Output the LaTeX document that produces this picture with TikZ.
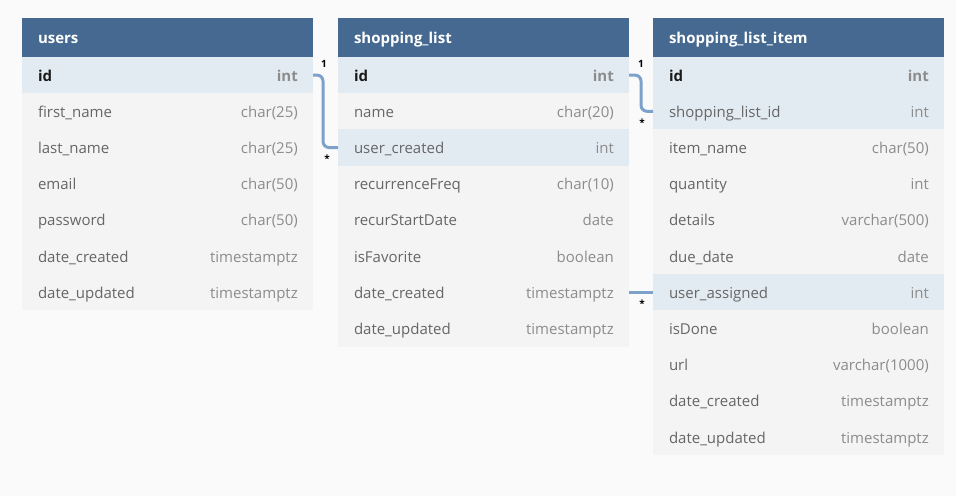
\documentclass[tikz,border=0pt]{standalone}
\usepackage{fontspec}
\setmainfont{Open Sans}
\usepackage{tikz}
\usetikzlibrary{positioning}
\definecolor{headblue}{HTML}{456990}
\definecolor{keyrow}{HTML}{E3EBF2}
\definecolor{plainrow}{HTML}{F4F4F4}
\definecolor{pagebg}{HTML}{FAFAFA}
\definecolor{linkblue}{HTML}{7CA1CA}
\definecolor{nametext}{HTML}{666666}
\definecolor{typetext}{HTML}{8C8C8C}
\newcommand{\rowfont}{\fontsize{15}{18}\selectfont}
% one table: #1 name prefix, #2 left x, #3 title, #4 rows
\newcommand{\erdtable}[4]{%
  \node[Header] (#1-0) at (#2,18) {#3};
  \foreach \fname/\ftype/\frow/\ftypestyle [count=\i] in {#4} {
    \pgfmathtruncatemacro{\j}{\i-1}
    \node[Row,\frow,below=0pt of #1-\j] (#1-\i) {\fname};
    \node[\ftypestyle] at ([xshift=-15pt]#1-\i.east) {\ftype};
  }%
}

\begin{document}
\begin{tikzpicture}[
x=1pt, y=-1pt,
Header/.style={anchor=north west, fill=headblue, text=white, font=\bfseries\rowfont,
  text width=259pt, inner xsep=16pt, inner ysep=0pt, minimum height=39pt, outer sep=0pt,
  text height=13.5pt, text depth=2.5pt},
Row/.style={text width=259pt, inner xsep=16pt, inner ysep=0pt, minimum height=36.2pt,
  outer sep=0pt, font=\rowfont, text height=14pt, text depth=2pt},
PlainRow/.style={fill=plainrow, text=nametext},
LinkRow/.style={fill=keyrow, text=nametext},
IdRow/.style={fill=keyrow, text=black!90, font=\bfseries\rowfont},
TypeText/.style={anchor=east, inner sep=0pt, text=typetext, font=\rowfont,
  text height=14pt, text depth=2pt},
IdType/.style={TypeText, font=\bfseries\rowfont},
Link/.style={draw=linkblue, line width=3pt, rounded corners=6pt},
Card/.style={inner sep=0pt, font=\bfseries\fontsize{10}{12}\selectfont}
]

\useasboundingbox[fill=pagebg] (0,0) rectangle (956,496);

\erdtable{users}{22}{users}{
  id/int/IdRow/IdType,
  first\_name/char(25)/PlainRow/TypeText,
  last\_name/char(25)/PlainRow/TypeText,
  email/char(50)/PlainRow/TypeText,
  password/char(50)/PlainRow/TypeText,
  date\_created/timestamptz/PlainRow/TypeText,
  date\_updated/timestamptz/PlainRow/TypeText}

\erdtable{sl}{338}{shopping\_list}{
  id/int/IdRow/IdType,
  name/char(20)/PlainRow/TypeText,
  user\_created/int/LinkRow/TypeText,
  recurrenceFreq/char(10)/PlainRow/TypeText,
  recurStartDate/date/PlainRow/TypeText,
  isFavorite/boolean/PlainRow/TypeText,
  date\_created/timestamptz/PlainRow/TypeText,
  date\_updated/timestamptz/PlainRow/TypeText}

\erdtable{sli}{653}{shopping\_list\_item}{
  id/int/IdRow/IdType,
  shopping\_list\_id/int/LinkRow/TypeText,
  item\_name/char(50)/PlainRow/TypeText,
  quantity/int/PlainRow/TypeText,
  details/varchar(500)/PlainRow/TypeText,
  due\_date/date/PlainRow/TypeText,
  user\_assigned/int/LinkRow/TypeText,
  isDone/boolean/PlainRow/TypeText,
  url/varchar(1000)/PlainRow/TypeText,
  date\_created/timestamptz/PlainRow/TypeText,
  date\_updated/timestamptz/PlainRow/TypeText}

% relations
\draw[Link] (users-1.east) -- ++(10,0) |- (sl-3.west);
\draw[Link] (sl-1.east) -- ++(12,0) |- (sli-2.west);
\draw[Link] (sl-7.east) -- (sli-7.west);

\node[Card] (one1) at ([xshift=11pt,yshift=11pt]users-1.east) {1};
\node[Card] (many1) at ([xshift=-11pt,yshift=-11pt]sl-3.west) {*};
\node[Card] (one2) at ([xshift=12pt,yshift=11pt]sl-1.east) {1};
\node[Card] (many2) at ([xshift=-11pt,yshift=-11pt]sli-2.west) {*};
\node[Card] (many3) at ([xshift=-11pt,yshift=-11pt]sli-7.west) {*};

\end{tikzpicture}
\end{document}
